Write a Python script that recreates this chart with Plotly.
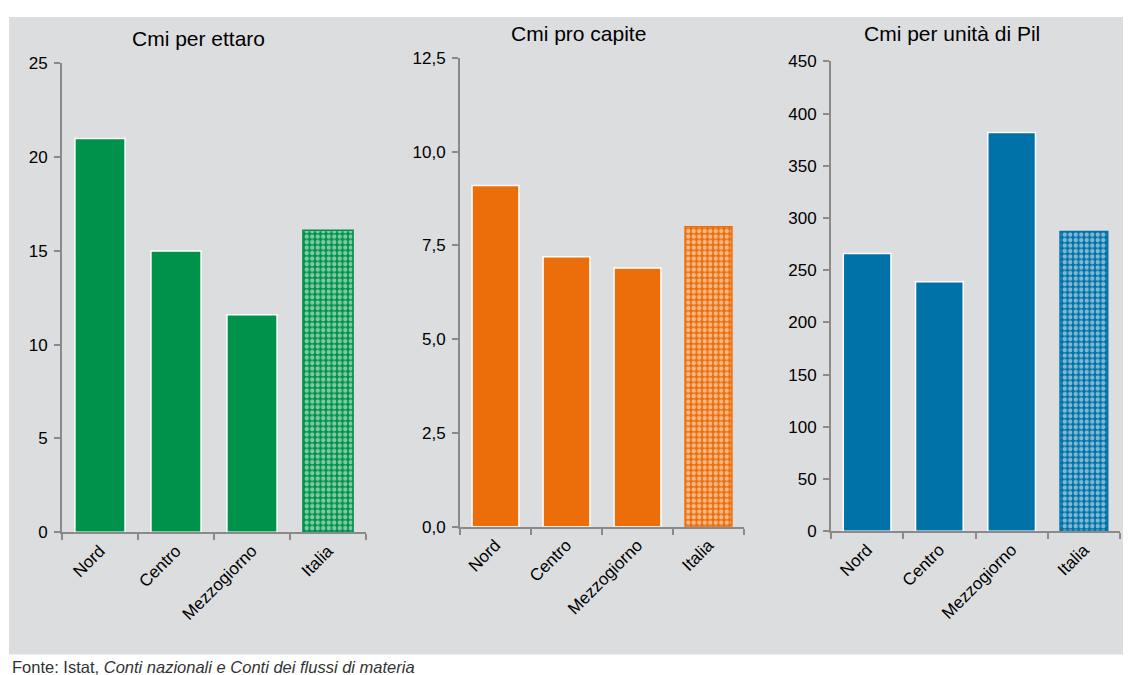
import plotly.graph_objects as go

# la pagina ha un margine: la figura è un po' più stretta della finestra
W, H = 1115, 675
OFF_X = 8
OFF_Y, SCALA_Y = 16.7, 0.97   # correzione misurata sulla foto

categorie = ['Nord', 'Centro', 'Mezzogiorno', 'Italia']
cmi_ettaro = [21.0, 15.0, 11.6, 16.1]
cmi_capite = [9.1, 7.2, 6.9, 8.0]
cmi_pil = [266, 239, 382, 287]

titoli = ['Cmi per ettaro', 'Cmi pro capite', 'Cmi per unità di Pil']
colori = ['#00924A', '#EC6E0A', '#0072A8']
y_max = [25, 12.5, 450]
y_dtick = [5, 2.5, 50]
y_format = ['d', '.1f', 'd']

# posizioni in pixel sull'immagine: (x0, x1, y_top, y_bottom), centro titolo (x, y)
pannelli = [(62, 366, 63, 531), (460, 744, 57.5, 525.5), (831, 1120, 61, 530)]
titoli_pos = [(198, 38), (578, 33), (952, 33)]

FONT = 'Liberation Sans, Arial'


def px(x):
    return (x - OFF_X) / W


def py(y):
    return 1 - ((y - OFF_Y) / SCALA_Y) / H


fig = go.Figure()

serie = [cmi_ettaro, cmi_capite, cmi_pil]
for i, valori in enumerate(serie):
    n = '' if i == 0 else str(i + 1)
    colore = colori[i]
    fig.add_trace(go.Bar(
        x=categorie,
        y=valori,
        width=0.66,
        marker=dict(
            color=colore,
            line=dict(color=['white', 'white', 'white', colore], width=1.5),
            pattern=dict(shape=['', '', '', '.'], fgcolor='white', bgcolor=colore,
                         size=5.5, solidity=0.5, fillmode='overlay'),
        ),
        xaxis='x' + n,
        yaxis='y' + n,
        showlegend=False,
        hovertemplate='%{x}: %{y}<extra></extra>'
    ))

    x0, x1, yt, yb = pannelli[i]
    asse = dict(linecolor='#8A8A8A', linewidth=2, showgrid=False, zeroline=False,
                showline=True, ticks='outside', tickcolor='#8A8A8A', tickwidth=2, ticklen=6,
                tickfont=dict(family=FONT, size=17, color='black'))
    fig.layout['xaxis' + n] = dict(
        asse, domain=[px(x0), px(x1)], anchor='y' + n, range=[-0.5, 3.5],
        tickangle=-45, tickson='boundaries')
    fig.layout['yaxis' + n] = dict(
        asse, domain=[py(yb), py(yt)], anchor='x' + n, range=[0, y_max[i]],
        dtick=y_dtick[i], tick0=0, tickformat=y_format[i], ticklabelstandoff=3)

    tx, ty = titoli_pos[i]
    fig.add_annotation(
        text=titoli[i], x=px(tx), y=py(ty), xref='paper', yref='paper',
        showarrow=False, xanchor='center', yanchor='middle',
        font=dict(family=FONT, size=21, color='black'))

# sfondo grigio
fig.add_shape(type='rect', xref='paper', yref='paper',
              x0=px(9), x1=1, y0=py(653), y1=1,
              fillcolor='#DCDDDF', line=dict(width=0), layer='below')

fig.add_annotation(
    text='Fonte: Istat, <i>Conti nazionali e Conti dei flussi di materia</i>',
    x=px(10), y=py(665), xref='paper', yref='paper', showarrow=False,
    xanchor='left', yanchor='middle',
    font=dict(family=FONT, size=16.5, color='#333333'))

fig.update_layout(
    width=W, height=H,
    margin=dict(l=0, r=0, t=0, b=0),
    paper_bgcolor='white',
    plot_bgcolor='rgba(0,0,0,0)',
    separators=',.'
)

fig.write_html("out.html")
